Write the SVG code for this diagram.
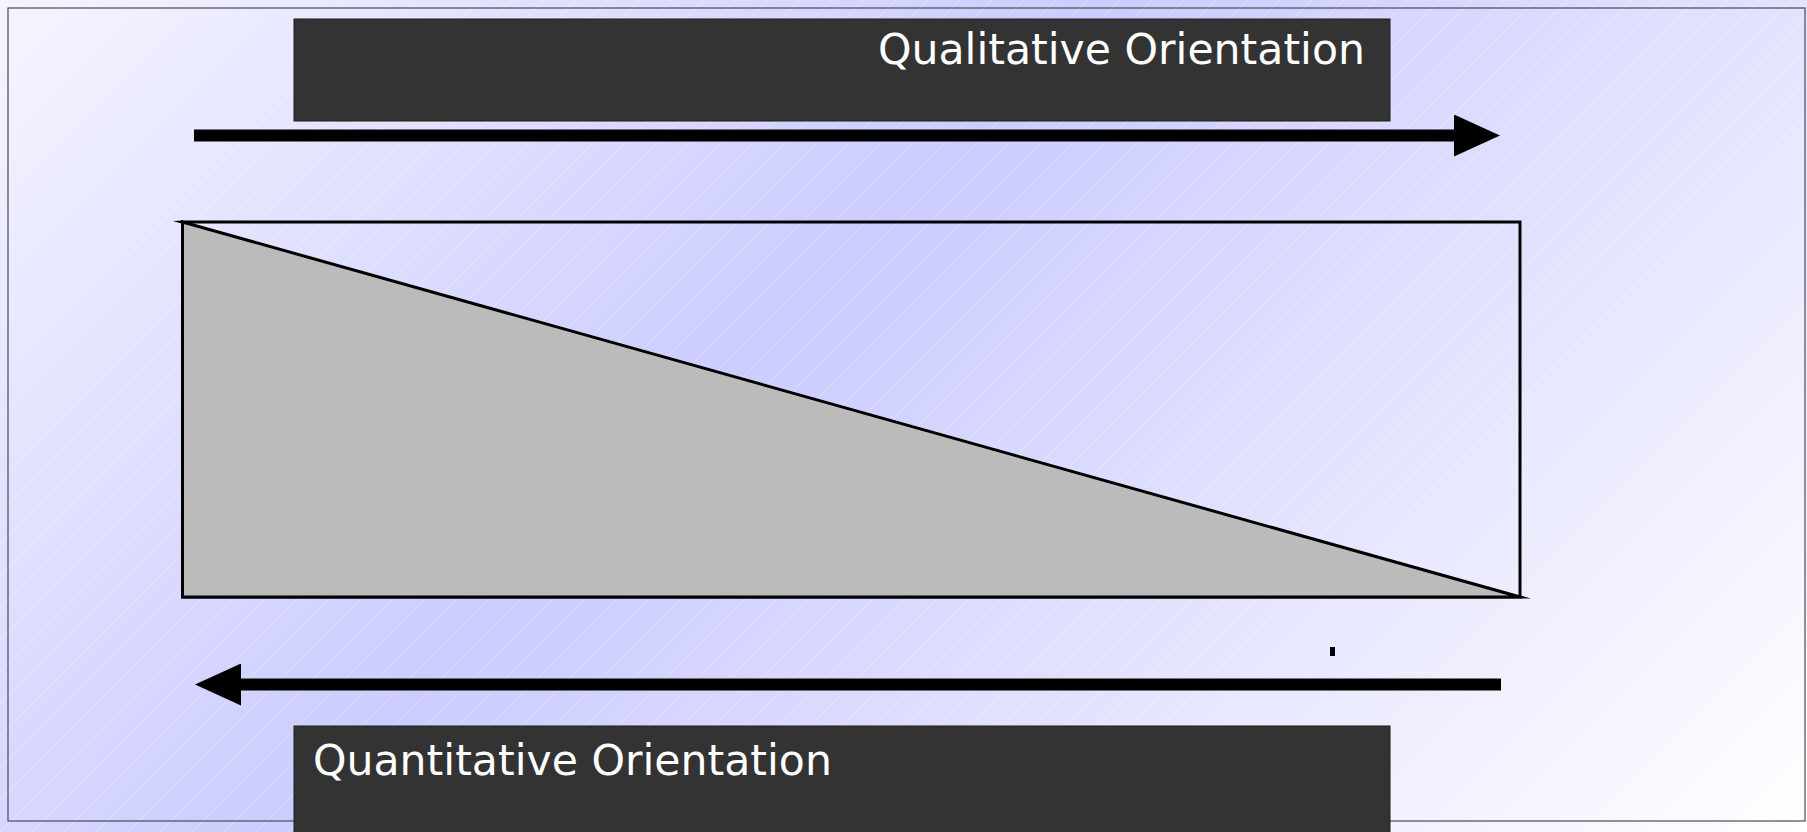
<svg xmlns="http://www.w3.org/2000/svg" width="1807" height="832" viewBox="0 0 1807 832">
  <defs>
    <linearGradient id="bgGrad" gradientUnits="userSpaceOnUse" x1="0" y1="0" x2="1320" y2="1320">
      <stop offset="0" stop-color="#f5f5ff"/>
      <stop offset="0.42" stop-color="#ccccff"/>
      <stop offset="1" stop-color="#ffffff"/>
    </linearGradient>
    <pattern id="hatch" patternUnits="userSpaceOnUse" width="32" height="32">
      <path d="M0,32 L32,0 M-8,8 L8,-8 M24,40 L40,24" stroke="#ffffff" stroke-width="0.8" stroke-opacity="0.35" fill="none"/>
    </pattern>
    <marker id="head" markerUnits="userSpaceOnUse" markerWidth="47" markerHeight="42" refX="0" refY="21" orient="auto">
      <path d="M0,0 L46,21 L0,42 Z" fill="#000"/>
    </marker>
    <style>
      .label-box { fill: #333333; stroke: #1e1e1e; stroke-width: 1; }
      .label { font-family: "DejaVu Sans", "Liberation Sans", sans-serif; font-size: 42.6px; fill: #ffffff; }
      .shaft { stroke: #000; stroke-width: 12; fill: none; marker-end: url(#head); }
    </style>
  </defs>

  <!-- page background -->
  <g id="background">
    <rect x="0" y="0" width="1807" height="832" fill="url(#bgGrad)"/>
    <rect x="0" y="0" width="1807" height="832" fill="url(#hatch)"/>
  </g>

  <!-- outer frame -->
  <g id="frame">
    <rect x="8" y="8" width="1797" height="813" fill="none" stroke="#4a4a55" stroke-width="1.2"/>
  </g>

  <!-- main rectangle with shaded wedge -->
  <g id="main-rect">
    <rect x="182.5" y="222" width="1337.5" height="375" fill="none" stroke="#000" stroke-width="3"/>
  </g>
  <g id="wedge">
    <polygon points="182.5,222 1520,597 182.5,597" fill="#bbbbbb" stroke="#000" stroke-width="3" stroke-linejoin="miter" stroke-miterlimit="10"/>
    <polygon points="173,221 183,220.5 183,224" fill="#000"/>
  </g>

  <!-- small tick mark -->
  <g id="tick">
    <rect x="1330" y="647" width="5" height="9" fill="#000"/>
  </g>

  <!-- direction arrows -->
  <g id="connectors">
    <line class="shaft" x1="194" y1="135.5" x2="1454" y2="135.5"/>
    <line class="shaft" x1="1501" y1="684.5" x2="241" y2="684.5"/>
  </g>

  <!-- labels -->
  <g id="qualitative">
    <rect class="label-box" x="294" y="19" width="1096" height="102"/>
    <text class="label" x="1365" y="64" text-anchor="end">Qualitative Orientation</text>
  </g>
  <g id="quantitative">
    <rect class="label-box" x="294" y="726" width="1096" height="120"/>
    <text class="label" x="313" y="775">Quantitative Orientation</text>
  </g>
</svg>
